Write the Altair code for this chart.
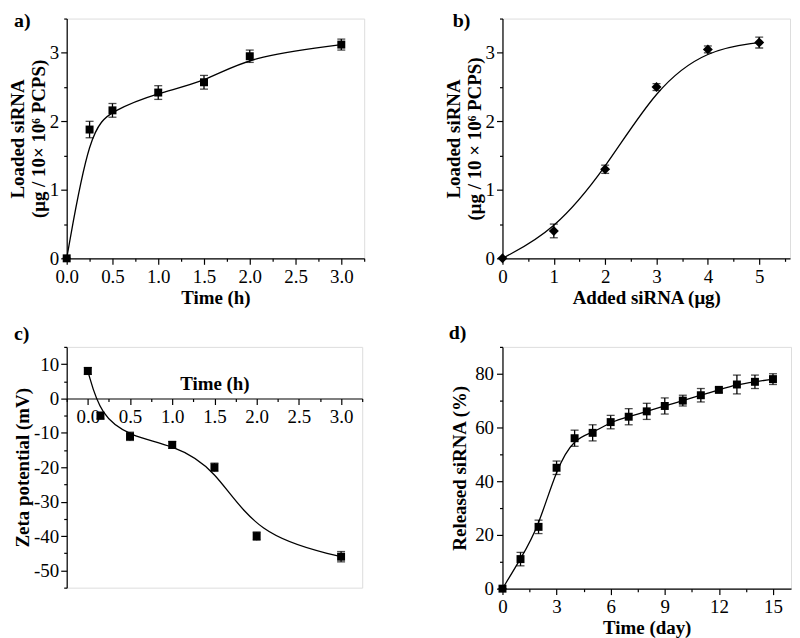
import altair as alt
import pandas as pd

FONT = "Liberation Serif"

# Panel a: loading kinetics
a_time = [0, 0.25, 0.5, 1.0, 1.5, 2.0, 3.0]
a_loaded = [0, 1.88, 2.16, 2.42, 2.57, 2.95, 3.12]
a_err = [0, 0.12, 0.1, 0.1, 0.1, 0.09, 0.08]

# Panel b: loading vs added siRNA
b_added = [0, 1, 2, 3, 4, 5]
b_loaded = [0, 0.40, 1.30, 2.50, 3.05, 3.15]
b_err = [0, 0.1, 0.06, 0.05, 0.05, 0.08]

# Panel c: zeta potential
c_time = [0, 0.15, 0.5, 1.0, 1.5, 2.0, 3.0]
c_zeta = [8, -5, -11, -13.5, -20, -40, -46]
c_err = [1.0, 1.0, 1.2, 1.0, 1.2, 1.2, 1.5]

# Panel d: release
d_day = [0, 1, 2, 3, 4, 5, 6, 7, 8, 9, 10, 11, 12, 13, 14, 15]
d_rel = [0, 11, 23, 45, 56, 58, 62, 64, 66, 68, 70, 72, 74, 76, 77, 78]
d_err = [0, 2.5, 2.5, 2.5, 3, 3, 2.5, 3, 3, 3, 2, 2.5, 1, 3.5, 2.5, 2]

TICK = dict(domainColor="black", tickColor="black", domainWidth=1.2, tickWidth=1.2,
            grid=False, labelFont=FONT, labelFontSize=19, labelColor="black",
            labelOverlap=False, labelFlush=False, labelBound=False)
TITLE = dict(titleFont=FONT, titleFontSize=19, titleFontWeight="bold", titleColor="black")


def panel(label, lab_xy, xs, ys, errs, xdom, ydom, xticks, xminor, yticks, yminor,
          xtitle, ytitle, w, h, shape="square", msize=64, xfmt="d",
          x_zero_axis=False, ypad=(2, 1)):
    df = pd.DataFrame({"x": xs, "y": ys,
                       "lo": [y - e for y, e in zip(ys, errs)],
                       "hi": [y + e for y, e in zip(ys, errs)]})
    xsc = alt.Scale(domain=xdom, nice=False, zero=False, padding=0)
    ysc = alt.Scale(domain=ydom, nice=False, zero=False, padding=0)
    xoff = 0
    xkw = {"titlePadding": 2}
    if x_zero_axis:
        xoff = round(-h * (0 - ydom[0]) / (ydom[1] - ydom[0]), 1)
        xkw = {"titleY": -5, "titleBaseline": "bottom"}
    xax = alt.Axis(values=xticks, title=xtitle, tickSize=6, labelPadding=3, offset=xoff,
                   labelExpr="replace(format(datum.value, '%s'), '\u2212', '-')" % xfmt,
                   orient="bottom", **xkw, **TICK, **TITLE)
    yax = alt.Axis(values=yticks, title=ytitle, tickSize=6, labelPadding=ypad[0],
                   titlePadding=ypad[1], offset=0, orient="left",
                   labelExpr="replace(format(datum.value, 'd'), '\u2212', '-')",
                   **TICK, **TITLE)
    xmin = alt.Axis(values=xminor, labels=False, title=None, domain=False, tickSize=3,
                    orient="bottom", offset=xoff, **TICK)
    ymin = alt.Axis(values=yminor, labels=False, title=None, domain=False, tickSize=3,
                    orient="left", offset=0, **TICK)

    base = alt.Chart(df)
    X = alt.X("x:Q", scale=xsc, axis=xax)
    Y = alt.Y("y:Q", scale=ysc, axis=yax)
    line = base.mark_line(color="black", strokeWidth=1.3, interpolate="basis").encode(x=X, y=Y)
    rule = base.mark_rule(color="black", strokeWidth=1.3).encode(
        x="x:Q", y="lo:Q", y2="hi:Q")
    tlo = base.mark_tick(color="black", thickness=1.3, size=8, orient="horizontal").encode(
        x="x:Q", y="lo:Q")
    thi = base.mark_tick(color="black", thickness=1.3, size=8, orient="horizontal").encode(
        x="x:Q", y="hi:Q")
    pts = base.mark_point(shape=shape, filled=True, size=msize, color="black", opacity=1).encode(
        x="x:Q", y="y:Q")
    tag = alt.Chart(pd.DataFrame({"t": [label]})).mark_text(
        font=FONT, fontSize=20, fontWeight="bold", color="black",
        align="left", baseline="middle").encode(
        text="t:N", x=alt.value(lab_xy[0]), y=alt.value(lab_xy[1]))
    main = alt.layer(line, rule, tlo, thi, pts, tag)
    minor = base.mark_point(opacity=0).encode(
        x=alt.X("x:Q", scale=xsc, axis=xmin), y=alt.Y("y:Q", scale=ysc, axis=ymin))
    return alt.layer(main, minor).resolve_axis(x="independent", y="independent").properties(
        width=w, height=h)


pa = panel("a)", (-53, 2), a_time, a_loaded, a_err, [0, 3.25], [0, 3.5],
           [0, 0.5, 1.0, 1.5, 2.0, 2.5, 3.0], [0.25, 0.75, 1.25, 1.75, 2.25, 2.75, 3.25],
           [0, 1, 2, 3], [0.5, 1.5, 2.5, 3.5], "Time (h)",
           ["Loaded siRNA", "(μg / 10× 10⁶ PCPS)"], 299, 241, xfmt=".1f")
pb = panel("b)", (-50, 2), b_added, b_loaded, b_err, [0, 5.6], [0, 3.5],
           [0, 1, 2, 3, 4, 5], [0.5, 1.5, 2.5, 3.5, 4.5, 5.5],
           [0, 1, 2, 3], [0.5, 1.5, 2.5, 3.5], "Added siRNA (μg)",
           ["Loaded siRNA", "(μg / 10 × 10⁶ PCPS)"], 289, 241, shape="diamond", msize=100)
pc = panel("c)", (-53, -13), c_time, c_zeta, c_err, [-0.25, 3.25], [-55, 15],
           [0, 0.5, 1.0, 1.5, 2.0, 2.5, 3.0], [-0.25, 0.25, 0.75, 1.25, 1.75, 2.25, 2.75, 3.25],
           [-50, -40, -30, -20, -10, 0, 10], [-55, -45, -35, -25, -15, -5, 5, 15],
           "Time (h)", "Zeta potential (mV)", 297, 242, xfmt=".1f", x_zero_axis=True)
pd_ = panel("d)", (-54, -14), d_day, d_rel, d_err, [0, 16], [0, 90],
            [0, 3, 6, 9, 12, 15], [1.5, 4.5, 7.5, 10.5, 13.5],
            [0, 20, 40, 60, 80], [10, 30, 50, 70, 90],
            "Time (day)", "Released siRNA (%)", 290, 243, ypad=(3, 5))

row1 = alt.hconcat(pa, pb, spacing=78)
row2 = alt.hconcat(pc, pd_, spacing=84)
chart = alt.vconcat(row1, row2, spacing=14).configure_view(stroke=None).configure(
    background="white", padding=0)

chart.save("out.html", embed_options={"renderer": "svg", "actions": False})
